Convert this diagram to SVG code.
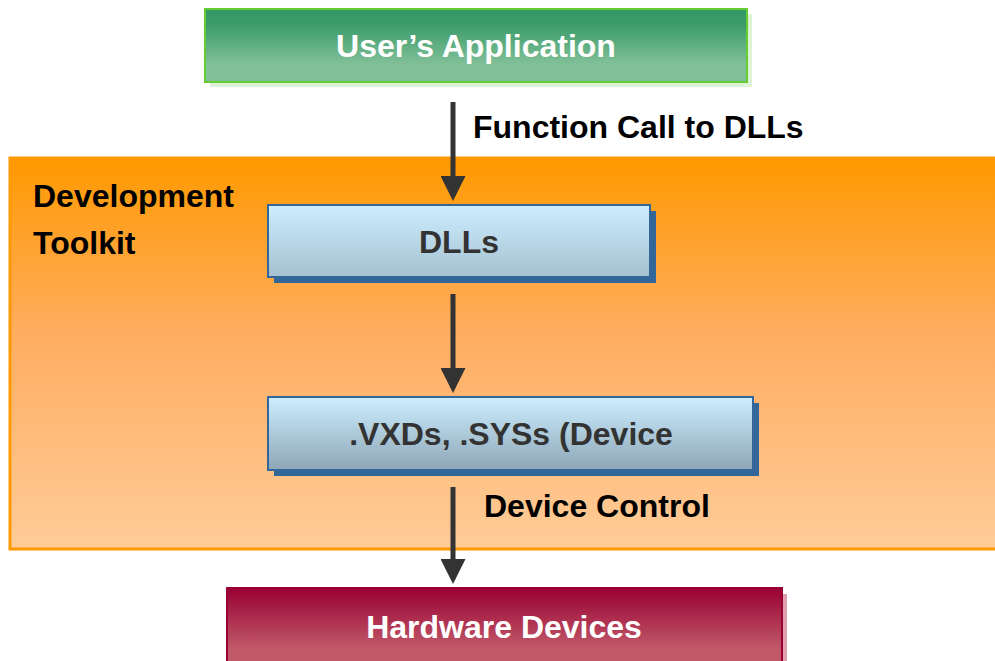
<svg xmlns="http://www.w3.org/2000/svg" width="995" height="661" viewBox="0 0 995 661">
<defs>
<linearGradient id="gOrange" x1="0" y1="0" x2="0" y2="1"><stop offset="0" stop-color="#ff9900"/><stop offset="0.45" stop-color="#ffad60"/><stop offset="1" stop-color="#ffcc99"/></linearGradient>
<linearGradient id="gGreen" x1="0" y1="0" x2="0" y2="1"><stop offset="0" stop-color="#339966"/><stop offset="0.2" stop-color="#3a9b69"/><stop offset="0.75" stop-color="#80bf98"/><stop offset="1" stop-color="#80bf98"/></linearGradient>
<linearGradient id="gBlue1" x1="0" y1="0" x2="0" y2="1"><stop offset="0" stop-color="#cceeff"/><stop offset="1" stop-color="#a6c1d1"/></linearGradient>
<linearGradient id="gBlue2" x1="0" y1="0" x2="0" y2="1"><stop offset="0" stop-color="#cceeff"/><stop offset="1" stop-color="#8ea6b6"/></linearGradient>
<linearGradient id="gRed" x1="0" y1="0" x2="0" y2="1"><stop offset="0" stop-color="#990033"/><stop offset="0.75" stop-color="#c05868"/><stop offset="1" stop-color="#c05868"/></linearGradient>
<marker id="ah" markerWidth="5" markerHeight="5" refX="4" refY="2.5" orient="auto" markerUnits="strokeWidth"><path d="M0,0 L5,2.5 L0,5 Z" fill="#333333"/></marker>
</defs>
<style>
text{font-family:"Liberation Sans",Arial,sans-serif;font-weight:bold;font-size:32px}
.w{fill:#ffffff}
.d{fill:#333333}
.k{fill:#000000}
.conn line{stroke:#333333;stroke-width:5}
</style>
<g id="toolkit">
<rect x="10" y="158" width="990" height="391" fill="url(#gOrange)" stroke="#ff9900" stroke-width="3"/>
<text class="k" x="33" y="207">Development</text>
<text class="k" x="33" y="254">Toolkit</text>
</g>
<g id="app">
<rect x="210" y="14" width="542" height="73" fill="#ddf2d6"/>
<rect x="205" y="9" width="542" height="73" fill="url(#gGreen)" stroke="#66cc33" stroke-width="2"/>
<text class="w" x="476" y="57" text-anchor="middle">User’s Application</text>
</g>
<g id="dlls">
<rect x="274" y="211" width="382" height="72" fill="#336699"/>
<rect x="268" y="205" width="382" height="72" fill="url(#gBlue1)" stroke="#336699" stroke-width="2"/>
<text class="d" x="459" y="253" text-anchor="middle">DLLs</text>
</g>
<g id="vxds">
<rect x="274" y="403" width="485" height="73" fill="#336699"/>
<rect x="268" y="397" width="485" height="73" fill="url(#gBlue2)" stroke="#336699" stroke-width="2"/>
<text class="d" x="511" y="445" text-anchor="middle">.VXDs, .SYSs (Device</text>
</g>
<g id="hw">
<rect x="232" y="594" width="555" height="80" fill="#e0a0b0"/>
<rect x="227" y="588" width="555" height="80" fill="url(#gRed)" stroke="#990033" stroke-width="2"/>
<text class="w" x="504" y="638" text-anchor="middle">Hardware Devices</text>
</g>
<g class="conn" id="connectors">
<line x1="453" y1="102" x2="453" y2="196" marker-end="url(#ah)"/>
<line x1="453" y1="294" x2="453" y2="388" marker-end="url(#ah)"/>
<line x1="453" y1="487" x2="453" y2="579" marker-end="url(#ah)"/>
<text class="k" x="473" y="138">Function Call to DLLs</text>
<text class="k" x="484" y="517">Device Control</text>
</g>
</svg>
